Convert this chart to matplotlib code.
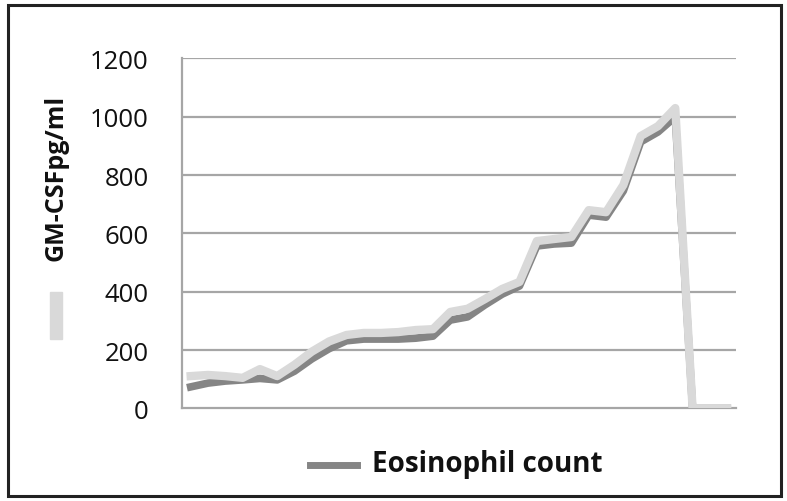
import matplotlib
matplotlib.use("Agg")
import matplotlib.pyplot as plt
import numpy as np
from matplotlib.patches import Rectangle
from matplotlib.lines import Line2D

plt.rcParams['font.family'] = ['Open Sans', 'DejaVu Sans']

# values (32 time points, no x labels)
gmcsf = [111, 115, 111, 105, 135, 111, 150, 195, 230, 252,
         259, 259, 262, 269, 272, 331, 342, 375, 410, 434,
         574, 581, 588, 680, 673, 766, 934, 968, 1030, 0,
         0, 0]
eosin = [74, 87, 94, 98, 103, 98, 128, 170, 205, 232,
         238, 238, 238, 241, 248, 303, 314, 355, 392, 420,
         557, 564, 567, 663, 656, 746, 914, 948, 1000, 0,
         0, 0]
yticks = [0, 200, 400, 600, 800, 1000, 1200]

x = np.arange(len(gmcsf))

fig = plt.figure(figsize=(7.87, 5.02), dpi=100)
ax = fig.add_axes([0.2313, 0.1843, 0.7037, 0.6972])

for t in yticks[1:]:
    ax.axhline(t, color='#a6a6a6', lw=1.6, zorder=1)

ax.plot(x, eosin, color='#858585', lw=5.5, solid_joinstyle='round', zorder=2)
ax.plot(x, gmcsf, color='#d9d9d9', lw=6, solid_joinstyle='round', zorder=3)

ax.set_xlim(-0.5, len(x) - 0.5)
ax.set_ylim(0, 1200)
ax.set_yticks(yticks)
ax.set_xticks([])
ax.tick_params(axis='y', length=0, pad=24, labelsize=18.5, colors='#111111')
for s in ['top', 'right']:
    ax.spines[s].set_visible(False)
ax.spines['left'].set_color('#a6a6a6')
ax.spines['bottom'].set_color('#a6a6a6')
ax.spines['left'].set_linewidth(1.6)
ax.spines['bottom'].set_linewidth(1.6)

# y label and clipped legend marker for GM-CSF
fig.text(56 / 787, 1 - 178 / 502, 'GM-CSFpg/ml', rotation=90, ha='center', va='center',
         fontsize=18, fontweight='bold', color='#111111')
fig.patches.append(Rectangle((50 / 787, 1 - 340 / 502), 12 / 787, 47 / 502,
                             transform=fig.transFigure, color='#d9d9d9'))

# legend for eosinophil count
fig.lines.append(Line2D([310 / 787, 357 / 787], [1 - 466 / 502, 1 - 466 / 502],
                        transform=fig.transFigure, color='#858585', lw=5))
fig.text(372 / 787, 1 - 465 / 502, 'Eosinophil count', ha='left', va='center',
         fontsize=20, fontweight='bold', color='#111111')

# outer border
fig.patches.append(Rectangle((8 / 787, 5 / 502), 773 / 787, 491 / 502, transform=fig.transFigure,
                             fill=False, edgecolor='#222222', lw=2.2))

plt.savefig('out.png', dpi=100)
